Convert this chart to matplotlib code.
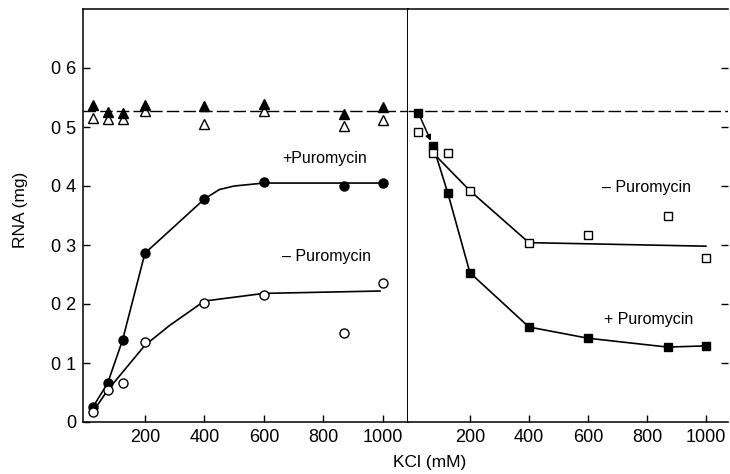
import matplotlib.pyplot as plt

plt.rcParams['font.family'] = ['Liberation Sans', 'DejaVu Sans']

# KCl concentrations (mM) used in both panels
kcl = [25, 75, 125, 200, 400, 600, 870, 1000]

# left panel: triangles (control), circles
tri_filled = [0.537, 0.525, 0.524, 0.537, 0.536, 0.539, 0.522, 0.534]
tri_open = [0.515, 0.514, 0.514, 0.527, 0.505, 0.527, 0.502, 0.512]
circ_plus = [0.025, 0.066, 0.139, 0.286, 0.378, 0.407, 0.400, 0.405]
circ_minus = [0.017, 0.054, 0.066, 0.136, 0.202, 0.215, 0.151, 0.235]

# left panel drawn curves (vertices)
fit_plus_x = [25, 75, 125, 200, 400, 450, 500, 600, 1000]
fit_plus_y = [0.025, 0.066, 0.139, 0.286, 0.378, 0.394, 0.400, 0.405, 0.405]
fit_minus_x = [25, 75, 200, 284, 400, 600, 990]
fit_minus_y = [0.017, 0.054, 0.130, 0.164, 0.205, 0.218, 0.222]

# right panel: squares
sq_plus = [0.524, 0.468, 0.388, 0.253, 0.161, 0.142, 0.127, 0.129]
sq_minus = [0.492, 0.456, 0.456, 0.392, 0.304, 0.317, 0.349, 0.278]

fit_sq_minus_x = [75, 200, 400, 1000]
fit_sq_minus_y = [0.456, 0.392, 0.304, 0.298]

control_level = 0.527

yticks = [0, 0.1, 0.2, 0.3, 0.4, 0.5, 0.6]
ytick_labels = ['0', '0 1', '0 2', '0 3', '0 4', '0 5', '0 6']
xticks = [200, 400, 600, 800, 1000]
xtick_labels = ['200', '400', '600', '800', '1000']

fig = plt.figure(figsize=(7.3, 4.74), dpi=100)
axL = fig.add_axes([83 / 730, 52 / 474, 325 / 730, 413 / 474])
axR = fig.add_axes([408 / 730, 52 / 474, 320 / 730, 413 / 474])

for ax in (axL, axR):
    ax.set_ylim(0, 0.70)
    ax.set_xticks(xticks)
    ax.set_xticklabels(xtick_labels)
    ax.tick_params(direction='in', length=5, width=1, labelsize=13, pad=5)
    for s in ax.spines.values():
        s.set_linewidth(1.1)
    ax.axhline(control_level, color='black', lw=1, dashes=(9, 3), zorder=1)

axL.set_xlim(-8, 1084)
axR.set_xlim(-10, 1075)
axL.spines['right'].set_linewidth(1.4)

axL.set_yticks(yticks)
axL.set_yticklabels(ytick_labels)
axR.spines['right'].set_visible(False)
axR.spines['left'].set_visible(False)
axR.yaxis.tick_right()
axR.set_yticks(yticks[1:])
axR.tick_params(axis='y', labelright=False)

# left panel
axL.plot(kcl, tri_filled, '^', color='black', ms=7, zorder=4)
axL.plot(kcl, tri_open, '^', mfc='white', mec='black', mew=1, ms=7, zorder=3)
axL.plot(fit_plus_x, fit_plus_y, '-', color='black', lw=1.2, zorder=2)
axL.plot(fit_minus_x, fit_minus_y, '-', color='black', lw=1.2, zorder=2)
axL.plot(kcl, circ_plus, 'o', color='black', ms=6.5, zorder=4)
axL.plot(kcl, circ_minus, 'o', mfc='white', mec='black', mew=1, ms=6.5, zorder=4)
axL.text(662, 0.447, '+Puromycin', fontsize=11.5, va='center')
axL.text(662, 0.28, '\u2013 Puromycin', fontsize=11.5, va='center')

# right panel
axR.annotate('', xy=(kcl[1], sq_plus[1]), xytext=(kcl[0], sq_plus[0]),
             arrowprops=dict(arrowstyle='-|>', color='black', lw=1.1,
                             mutation_scale=8, shrinkA=3, shrinkB=4))
axR.plot(kcl[1:], sq_plus[1:], '-', color='black', lw=1.2, zorder=2)
axR.plot(fit_sq_minus_x, fit_sq_minus_y, '-', color='black', lw=1.2, zorder=2)
axR.plot(kcl, sq_plus, 's', color='black', ms=6, zorder=4)
axR.plot(kcl, sq_minus, 's', mfc='white', mec='black', mew=1, ms=6, zorder=4)
axR.text(648, 0.397, '\u2013 Puromycin', fontsize=11.5, va='center')
axR.text(655, 0.173, '+ Puromycin', fontsize=11.5, va='center')

fig.text(21 / 730, 1 - 210 / 474, 'RNA (mg)', rotation=90, fontsize=12.5,
         ha='center', va='center')
fig.text(430 / 730, 1 - 462 / 474, 'KCl (mM)', fontsize=12.5,
         ha='center', va='center')

fig.savefig('out.png', dpi=100)
